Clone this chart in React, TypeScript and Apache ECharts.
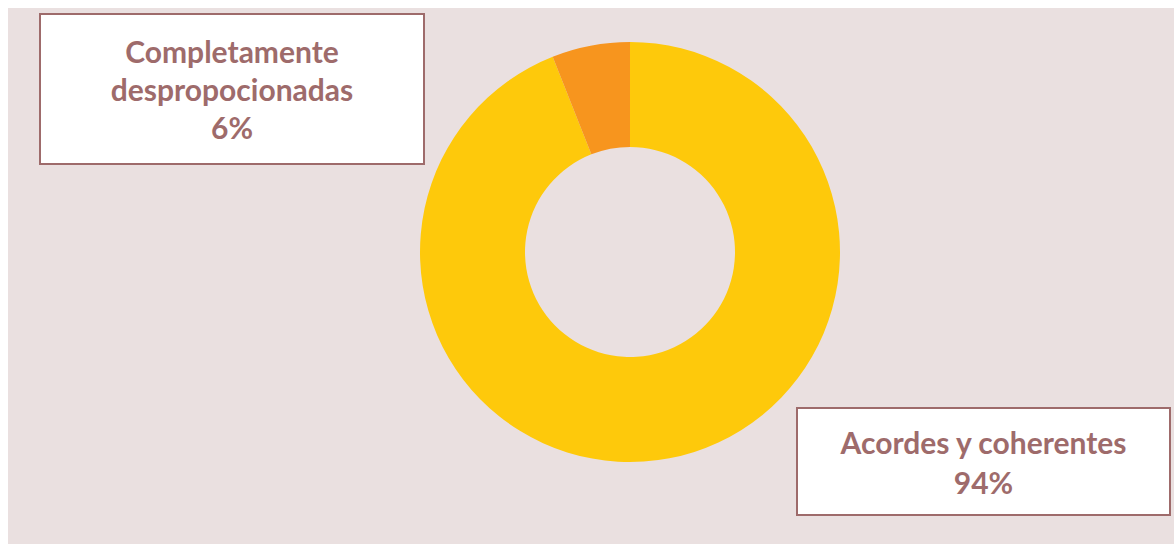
import React, { useEffect, useRef } from "react";
import * as echarts from "echarts";

const categories = ["Acordes y coherentes", "Completamente\ndespropocionadas"];
const values = [94, 6];
const colors = ["#FEC90B", "#F7951E"];

const TEXT = "#9E6B6B";

export default function App() {
  const ref = useRef<HTMLDivElement>(null);
  useEffect(() => {
    if (!ref.current) return;
    const chart = echarts.init(ref.current, null, { renderer: "svg" });
    const labelBoxes = [
      { cx: 975.5, cy: 453.5, w: 371, pad: [12, 0, 13, 0], lh: 40 },
      { cx: 224, cy: 81, w: 382, pad: [17, 0, 17, 0], lh: 38 },
    ];
    chart.setOption({
      animation: false,
      backgroundColor: "#EAE0E0",
      series: [
        {
          type: "pie",
          center: [622, 244],
          radius: [105, 210],
          startAngle: 90,
          clockwise: true,
          silent: true,
          data: categories.map((name, i) => ({
            name,
            value: values[i],
            itemStyle: { color: colors[i] },
            label: {
              width: labelBoxes[i].w,
              padding: labelBoxes[i].pad,
              lineHeight: labelBoxes[i].lh,
            },
          })),
          label: {
            show: true,
            position: "outside",
            formatter: "{b}\n{d}%",
            fontFamily: "Lato",
            fontWeight: "bold",
            fontSize: 30,
            color: TEXT,
            backgroundColor: "#FFFFFF",
            borderColor: TEXT,
            borderWidth: 2,
            align: "center",
          },
          labelLine: { show: false },
          labelLayout: (params: any) => {
            const b = labelBoxes[params.dataIndex];
            return { x: b.cx, y: b.cy, align: "center", verticalAlign: "middle" };
          },
        },
      ],
    });
    return () => chart.dispose();
  }, []);
  return (
    <div
      ref={ref}
      style={{ position: "absolute", left: 8, top: 8, width: 1166, height: 536 }}
    />
  );
}
